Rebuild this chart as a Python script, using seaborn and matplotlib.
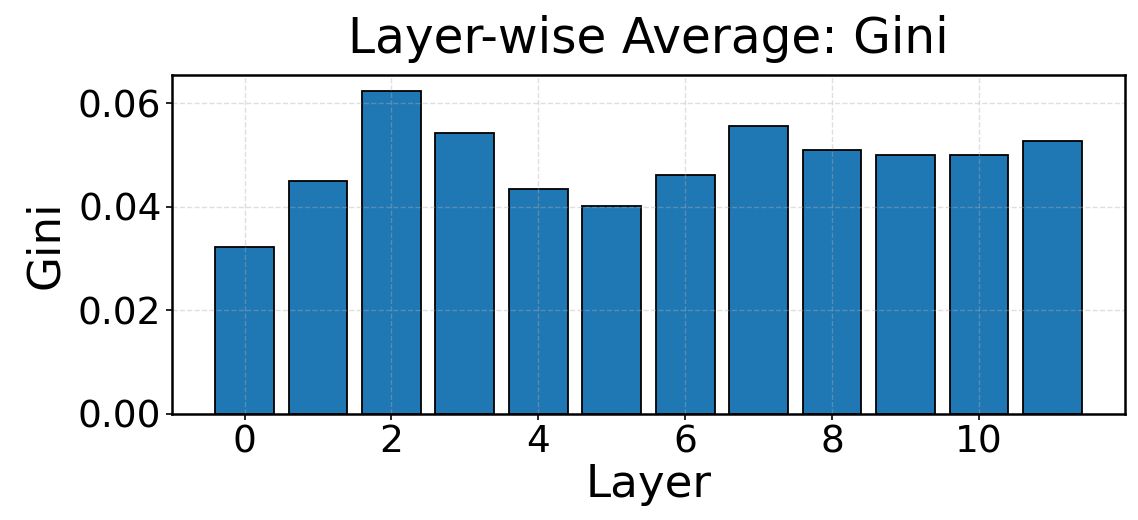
import matplotlib
matplotlib.use("Agg")
import matplotlib.pyplot as plt
import seaborn as sns
import pandas as pd

layers = list(range(12))
gini = [0.0323, 0.0451, 0.0624, 0.0542, 0.0434, 0.0402,
        0.0462, 0.0557, 0.0510, 0.0500, 0.0500, 0.0528]
title = "Layer-wise Average: Gini"
xlabel = "Layer"
ylabel = "Gini"

plt.rcParams["font.family"] = ["DejaVu Sans"]
plt.rcParams["axes.axisbelow"] = "line"

df = pd.DataFrame({"Layer": layers, "Gini": gini})

fig = plt.figure(figsize=(11.38, 5.2), dpi=100)
ax = fig.add_axes([0.151, 0.204, 0.8376, 0.652])
sns.barplot(data=df, x="Layer", y="Gini", native_scale=True, color="#1f77b4",
            saturation=1, edgecolor="black", linewidth=1.3, width=0.8, ax=ax)
ax.margins(x=0.05, y=0.05)
ax.set_xlim(-0.99, 11.99)
ax.set_ylim(0, max(gini) * 1.05)
ax.set_yticks([0.0, 0.02, 0.04, 0.06])
ax.set_yticklabels(["0.00", "0.02", "0.04", "0.06"])
ax.set_xticks([0, 2, 4, 6, 8, 10])
ax.grid(True, linestyle="--", color="#b0b0b0", alpha=0.4, linewidth=1)
ax.set_title(title, fontsize=35, pad=16)
ax.set_xlabel(xlabel, fontsize=32.5, labelpad=2)
ax.set_ylabel(ylabel, fontsize=32.5, labelpad=8)
ax.tick_params(labelsize=27, width=1.2, length=4)
for s in ax.spines.values():
    s.set_linewidth(1.8)
    s.set_color("black")

fig.savefig("out.png", dpi=100)
